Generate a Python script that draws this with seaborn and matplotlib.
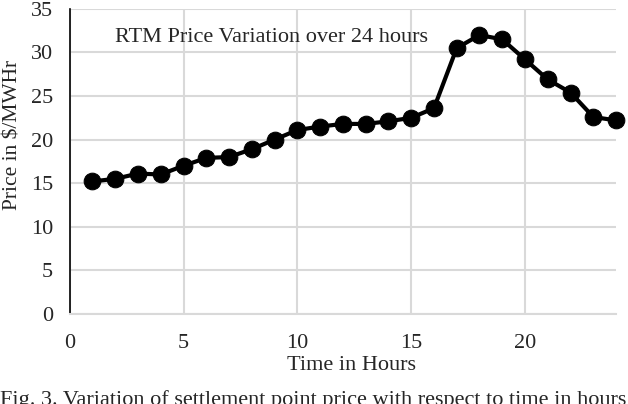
import matplotlib
matplotlib.use("Agg")
import matplotlib.pyplot as plt
import seaborn as sns
import pandas as pd

# RTM settlement point price over the day
hours = list(range(1, 25))
price = [15.2, 15.5, 16.1, 16.0, 17.0, 17.9, 18.0, 18.9, 20.0, 21.1, 21.5, 21.8,
         21.8, 22.1, 22.5, 23.6, 30.5, 32.0, 31.5, 29.2, 26.9, 25.4, 22.6, 22.2]

x_ticks = [0, 5, 10, 15, 20]
y_ticks = [0, 5, 10, 15, 20, 25, 30, 35]

df = pd.DataFrame({'hour': hours, 'price': price})

sns.set_style('white')
plt.rcParams['font.family'] = ['Liberation Serif', 'DejaVu Serif']

fig = plt.figure(figsize=(6.28, 4.04), dpi=100)
ax = fig.add_axes([0.111, 0.223, 0.870, 0.755])

sns.lineplot(data=df, x='hour', y='price', ax=ax, color='black', linewidth=3,
             marker='o', markersize=12, markeredgecolor='black', zorder=3)
for ln in ax.lines:
    ln.set_clip_on(False)

ax.set_xlim(0, 24)
ax.set_ylim(0, 35)
ax.set_xticks(x_ticks)
ax.set_yticks(y_ticks)
ax.grid(True, color='#d9d9d9', linewidth=1.5)
ax.set_axisbelow(True)
ax.tick_params(axis='x', labelsize=16, length=0, pad=14.5)
ax.tick_params(axis='y', labelsize=16, length=0, pad=12)

for side in ['top', 'right']:
    ax.spines[side].set_visible(False)
ax.spines['left'].set_color('black')
ax.spines['left'].set_linewidth(1.2)
ax.spines['bottom'].set_color('#d9d9d9')
ax.spines['bottom'].set_linewidth(1.5)

ax.set_xlabel('Time in Hours', fontsize=16)
ax.set_ylabel('Price in $/MWHr', fontsize=15.5)
ax.xaxis.set_label_coords(0.516, -0.184)
ax.yaxis.set_label_coords(-0.103, 0.587)
ax.xaxis.label.set_va('baseline')
ax.yaxis.label.set_va('center')

ax.text(0.082, 0.892, 'RTM Price Variation over 24 hours', transform=ax.transAxes,
        fontsize=16, ha='left', va='baseline')

fig.text(0.0, 0.035, 'Fig. 3. Variation of settlement point price with respect to time in hours',
         fontsize=16, ha='left', va='top')

fig.savefig('out.png', dpi=100)
